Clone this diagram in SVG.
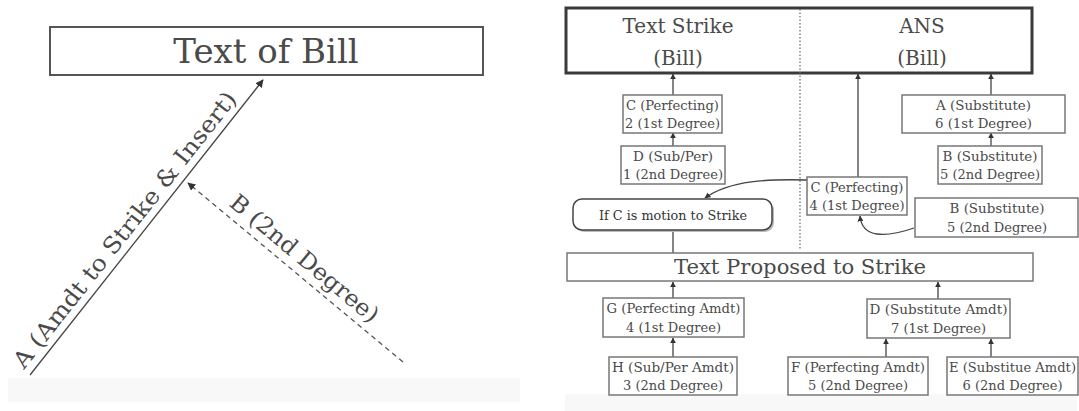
<svg xmlns="http://www.w3.org/2000/svg" width="1079" height="411" viewBox="0 0 1079 411">
<defs>
<marker id="ah" viewBox="0 0 10 10" refX="9" refY="5" markerWidth="6" markerHeight="6" markerUnits="userSpaceOnUse" orient="auto">
<path d="M0,0 L10,5 L0,10 z" fill="#333"/>
</marker>
<marker id="ahL" viewBox="0 0 10 10" refX="9" refY="5" markerWidth="8" markerHeight="8" markerUnits="userSpaceOnUse" orient="auto">
<path d="M0,0 L10,5 L0,10 z" fill="#333"/>
</marker>
</defs>
<style>
text{font-family:"DejaVu Serif","Liberation Serif",serif;fill:#4a4a4a;text-anchor:middle}
.box{fill:#fff;stroke:#777;stroke-width:1.5}
.big{fill:#fff;stroke:#3a3a3a;stroke-width:3}
.sm{font-size:12.5px}
.md{font-size:20px}
.ln{fill:none;stroke:#444;stroke-width:1.3}
.arr{fill:none;stroke:#444;stroke-width:1.3;marker-end:url(#ah)}
</style>
<rect width="1079" height="411" fill="#fff"/>
<rect x="8" y="378" width="512" height="24" fill="#f8f8f8"/>
<rect x="565" y="394" width="512" height="17" fill="#f8f8f8"/>

<!-- Left panel -->
<g id="bill">
<rect class="box" x="50" y="27" width="433" height="48" style="stroke:#555;stroke-width:2"/>
<text x="266" y="63" style="font-size:34px">Text of Bill</text>
</g>
<g id="left-connectors">
<line x1="30" y1="375" x2="263" y2="80" style="stroke:#444;stroke-width:1.3;marker-end:url(#ahL)"/>
<line x1="403" y1="362" x2="188" y2="183" style="stroke:#555;stroke-width:1.3;stroke-dasharray:5,4;marker-end:url(#ahL)"/>
</g>
<g id="label-a">
<text x="24" y="370" transform="rotate(-51.7 24 370)" style="font-size:23px;text-anchor:start" textLength="345" lengthAdjust="spacingAndGlyphs">A (Amdt to Strike &amp; Insert)</text>
</g>
<g id="label-b">
<text x="228" y="205" transform="rotate(39.8 228 205)" style="font-size:23px;text-anchor:start" textLength="186" lengthAdjust="spacingAndGlyphs">B (2nd Degree)</text>
</g>

<!-- Right panel -->
<g id="top-box">
<rect class="big" x="566" y="8" width="466" height="65"/>
<text class="md" x="678" y="33">Text Strike</text>
<text class="md" x="678" y="65">(Bill)</text>
<text class="md" x="922" y="33">ANS</text>
<text class="md" x="922" y="65">(Bill)</text>
</g>
<g id="divider">
<line x1="800" y1="9" x2="800" y2="250" style="stroke:#666;stroke-width:1.2;stroke-dasharray:1.5,2"/>
</g>

<g id="connectors">
<line class="arr" x1="673" y1="95" x2="673" y2="74"/>
<line class="arr" x1="673" y1="146" x2="673" y2="133"/>
<line class="arr" x1="858" y1="177" x2="858" y2="74"/>
<line class="arr" x1="991" y1="95" x2="991" y2="74"/>
<line class="arr" x1="991" y1="146" x2="991" y2="133"/>
<path class="arr" d="M807 180 C770 179 730 180 705 198"/>
<path class="arr" d="M914 228 C885 238 862 238 860 216"/>
<line class="ln" x1="673" y1="230" x2="673" y2="253"/>
<line class="arr" x1="673" y1="298" x2="673" y2="282"/>
<line class="arr" x1="673" y1="357" x2="673" y2="338"/>
<line class="arr" x1="938" y1="299" x2="938" y2="282"/>
<line class="arr" x1="886" y1="357" x2="886" y2="339"/>
<line class="arr" x1="991" y1="357" x2="991" y2="339"/>
</g>

<g id="c2">
<rect class="box" x="623" y="95" width="99" height="38"/>
<text class="sm" x="672.5" y="110" textLength="93" lengthAdjust="spacingAndGlyphs">C (Perfecting)</text>
<text class="sm" x="672.5" y="128" textLength="95" lengthAdjust="spacingAndGlyphs">2 (1st Degree)</text>
</g>
<g id="d1">
<rect class="box" x="621" y="146" width="104" height="38"/>
<text class="sm" x="673" y="161" textLength="80" lengthAdjust="spacingAndGlyphs">D (Sub/Per)</text>
<text class="sm" x="673" y="179" textLength="100" lengthAdjust="spacingAndGlyphs">1 (2nd Degree)</text>
</g>
<g id="if-c">
<rect x="575" y="201" width="199" height="31" rx="9" fill="#bbb"/>
<rect x="573" y="199" width="199" height="31" rx="9" fill="#fff" stroke="#444" stroke-width="1.5"/>
<text x="673" y="220" style="font-size:13.5px;fill:#333" textLength="148" lengthAdjust="spacingAndGlyphs">If C is motion to Strike</text>
</g>
<g id="c4">
<rect class="box" x="807" y="177" width="100" height="38"/>
<text class="sm" x="857" y="192" textLength="93" lengthAdjust="spacingAndGlyphs">C (Perfecting)</text>
<text class="sm" x="857" y="210" textLength="95" lengthAdjust="spacingAndGlyphs">4 (1st Degree)</text>
</g>
<g id="a6">
<rect class="box" x="902" y="95" width="163" height="38"/>
<text class="sm" x="983.5" y="110" textLength="95" lengthAdjust="spacingAndGlyphs">A (Substitute)</text>
<text class="sm" x="983.5" y="128" textLength="97" lengthAdjust="spacingAndGlyphs">6 (1st Degree)</text>
</g>
<g id="b5a">
<rect class="box" x="938" y="146" width="104" height="38"/>
<text class="sm" x="990" y="161" textLength="95" lengthAdjust="spacingAndGlyphs">B (Substitute)</text>
<text class="sm" x="990" y="179" textLength="100" lengthAdjust="spacingAndGlyphs">5 (2nd Degree)</text>
</g>
<g id="b5b">
<rect class="box" x="915" y="198" width="163" height="39"/>
<text class="sm" x="997" y="213" textLength="95" lengthAdjust="spacingAndGlyphs">B (Substitute)</text>
<text class="sm" x="997" y="232" textLength="100" lengthAdjust="spacingAndGlyphs">5 (2nd Degree)</text>
</g>
<g id="text-proposed">
<rect class="box" x="567" y="253" width="466" height="28"/>
<text class="md" x="800" y="274" textLength="252" lengthAdjust="spacingAndGlyphs">Text Proposed to Strike</text>
</g>
<g id="g4">
<rect class="box" x="603" y="298" width="141" height="39"/>
<text class="sm" x="673.5" y="313" textLength="134" lengthAdjust="spacingAndGlyphs">G (Perfecting Amdt)</text>
<text class="sm" x="673.5" y="332" textLength="95" lengthAdjust="spacingAndGlyphs">4 (1st Degree)</text>
</g>
<g id="h3">
<rect class="box" x="609" y="357" width="128" height="38"/>
<text class="sm" x="673" y="372" textLength="122" lengthAdjust="spacingAndGlyphs">H (Sub/Per Amdt)</text>
<text class="sm" x="673" y="390" textLength="100" lengthAdjust="spacingAndGlyphs">3 (2nd Degree)</text>
</g>
<g id="d7">
<rect class="box" x="867" y="299" width="143" height="39"/>
<text class="sm" x="938.5" y="314" textLength="138" lengthAdjust="spacingAndGlyphs">D (Substitute Amdt)</text>
<text class="sm" x="938.5" y="333" textLength="95" lengthAdjust="spacingAndGlyphs">7 (1st Degree)</text>
</g>
<g id="f5">
<rect class="box" x="788" y="357" width="140" height="38"/>
<text class="sm" x="858" y="372" textLength="134" lengthAdjust="spacingAndGlyphs">F (Perfecting Amdt)</text>
<text class="sm" x="858" y="390" textLength="100" lengthAdjust="spacingAndGlyphs">5 (2nd Degree)</text>
</g>
<g id="e6">
<rect class="box" x="947" y="357" width="131" height="38"/>
<text class="sm" x="1012.5" y="372" textLength="127" lengthAdjust="spacingAndGlyphs">E (Substitue Amdt)</text>
<text class="sm" x="1012.5" y="390" textLength="100" lengthAdjust="spacingAndGlyphs">6 (2nd Degree)</text>
</g>
</svg>
